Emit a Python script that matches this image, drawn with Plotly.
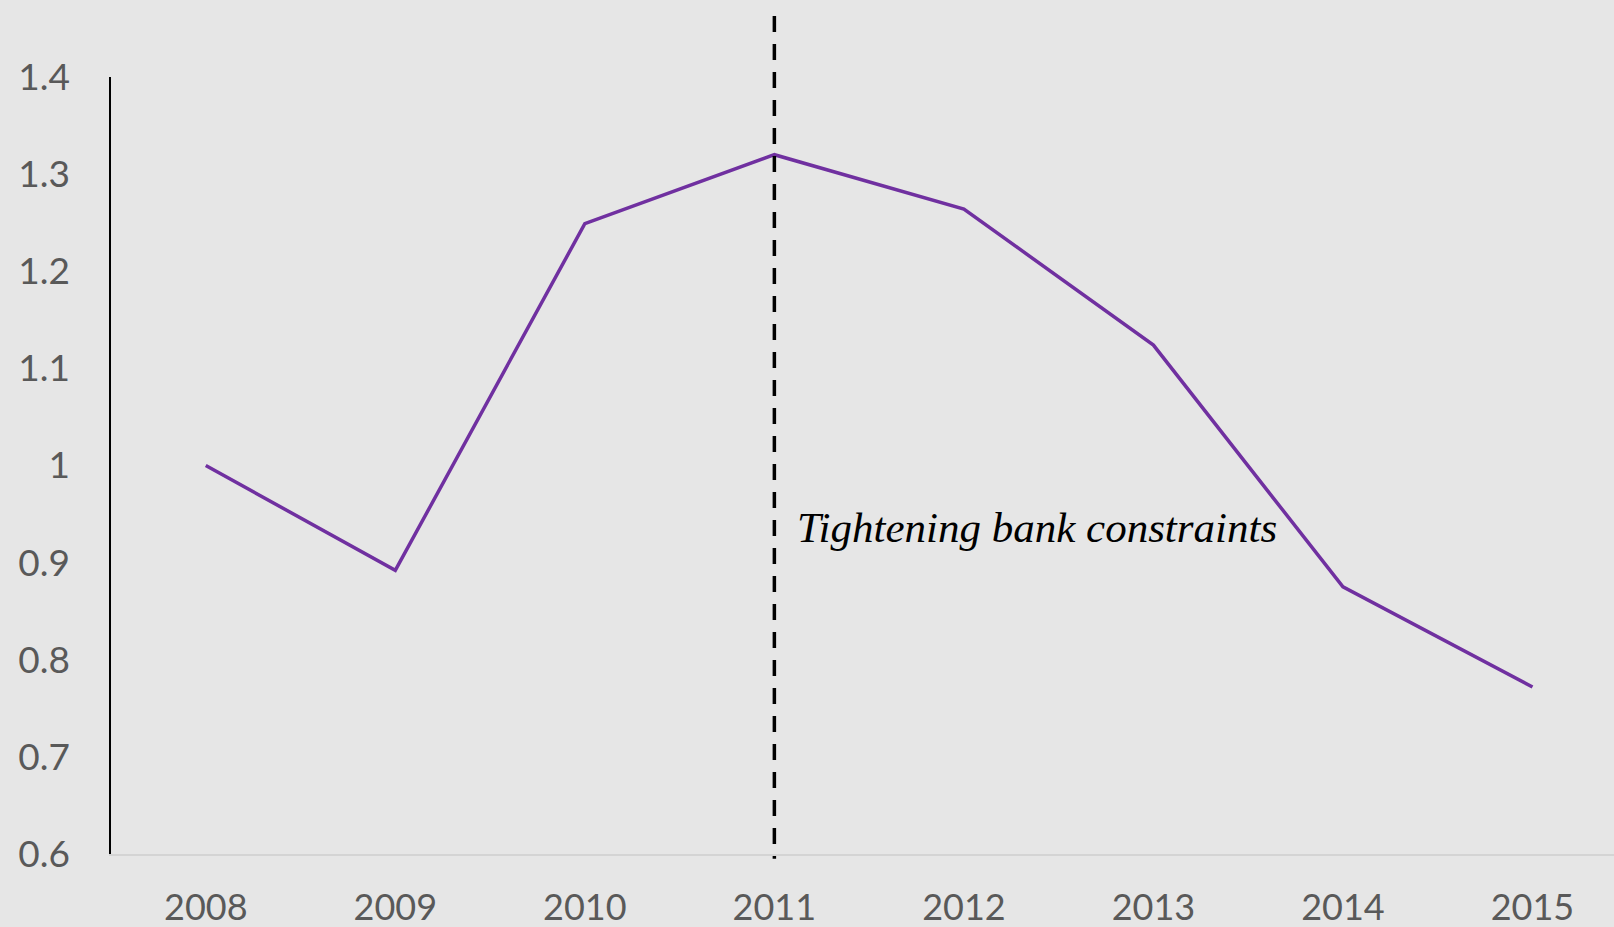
import plotly.graph_objects as go

years = ["2008", "2009", "2010", "2011", "2012", "2013", "2014", "2015"]
values = [1.0, 0.892, 1.249, 1.320, 1.264, 1.124, 0.875, 0.772]
y_ticks = [0.6, 0.7, 0.8, 0.9, 1.0, 1.1, 1.2, 1.3, 1.4]
y_tick_labels = ["0.6", "0.7", "0.8", "0.9", "1", "1.1", "1.2", "1.3", "1.4"]
event_year = "2011"
event_label = "Tightening bank constraints"
label_y = 0.936

bg = "#e6e6e6"
ev = years.index(event_year)

fig = go.Figure()
fig.add_trace(go.Scatter(x=years, y=values, mode="lines",
                         line=dict(color="#7030a0", width=3.5), showlegend=False,
                         cliponaxis=False))

fig.add_shape(type="line", xref="x", yref="paper",
              x0=ev, x1=ev, y0=1.0785, y1=-0.006,
              line=dict(color="black", width=3.5, dash="16px,12px"))

fig.add_annotation(x=ev, xref="x", y=label_y, yref="y",
                   text="<i>" + event_label + "</i>", showarrow=False,
                   xanchor="left", yanchor="middle", xshift=21,
                   font=dict(family="Liberation Serif", size=43, color="black"))

fig.update_layout(
    width=1614, height=927,
    margin=dict(l=111, r=0, t=77, b=73),
    paper_bgcolor=bg, plot_bgcolor=bg,
    font=dict(family="Lato", size=36, color="#595959"),
    xaxis=dict(type="category", range=[-0.5, 7.43], showgrid=False,
               showline=True, linecolor="#d4d4d4", linewidth=2,
               ticks="", ticklabelstandoff=21, zeroline=False, automargin=False,
               tickfont=dict(size=36, color="#595959")),
    yaxis=dict(range=[0.6, 1.4], tickvals=y_ticks, ticktext=y_tick_labels,
               showgrid=False, showline=True, linecolor="#000000", linewidth=1.5,
               ticks="", ticklabelstandoff=32, zeroline=False, automargin=False,
               tickfont=dict(size=37, color="#595959")),
)

fig.write_html("out.html")
